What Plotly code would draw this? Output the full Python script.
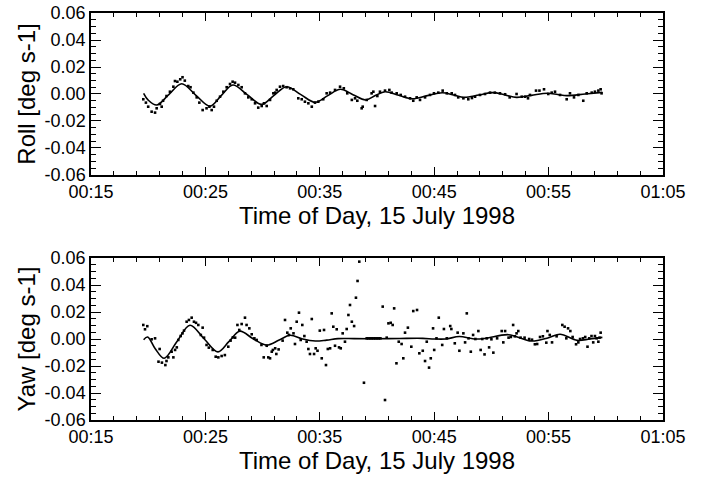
import pandas as pd
import plotly.graph_objects as go

# ---------------- data (minutes after 00:00, 15 July 1998) ----------------
roll_t = [19.57, 19.80, 20.00, 20.30, 20.60, 20.74, 21.03, 21.18, 21.30, 21.60, 21.90, 22.20, 22.34, 22.55,
          22.80, 23.00, 23.20, 23.50, 23.70, 23.95, 24.24, 24.47, 24.76, 25.10, 25.35, 25.55, 25.75, 25.99,
          26.28, 26.57, 26.86, 27.15, 27.38, 27.59, 27.88, 28.17, 28.46, 28.75, 29.05, 29.34, 29.62, 29.92,
          30.12, 30.36, 30.65, 30.94, 31.10, 31.23, 31.52, 31.80, 32.10, 32.40, 32.68, 33.12, 33.42, 33.70,
          34.00, 34.30, 34.58, 34.87, 35.30, 35.60, 35.90, 36.33, 36.77, 37.10, 37.40, 37.80, 38.08, 38.28,
          38.66, 38.75, 39.10, 39.53, 39.68, 39.83, 40.03, 40.26, 40.70, 41.08, 41.28, 41.72, 42.07, 42.45,
          42.89, 43.17, 43.47, 43.76, 44.20, 44.63, 44.98, 45.36, 45.74, 46.10, 46.53, 46.82, 47.10, 47.55,
          47.98, 48.30, 48.57, 49.00, 49.44, 49.88, 50.30, 50.75, 51.20, 51.60, 52.20, 52.65, 52.95, 53.20,
          53.37, 53.90, 54.20, 54.60, 54.97, 55.27, 55.56, 56.00, 56.58, 56.87, 57.22, 57.60, 58.03, 58.33,
          58.77, 59.05, 59.35, 59.55, 59.63]
roll_v = [-0.0039, -0.0064, -0.0094, -0.0131, -0.0138, -0.0106, -0.0074, -0.0094, -0.0050, -0.0015, 0.0017,
          0.0054, 0.0096, 0.0091, 0.0109, 0.0124, 0.0099, 0.0059, 0.0050, 0.0010, -0.0025, -0.0064, -0.0119,
          -0.0106, -0.0094, -0.0119, -0.0094, -0.0050, -0.0020, 0.0017, 0.0050, 0.0074, 0.0091, 0.0084,
          0.0067, 0.0050, 0.0005, -0.0025, -0.0039, -0.0069, -0.0101, -0.0089, -0.0069, -0.0089, -0.0044,
          0.0005, 0.0010, 0.0030, 0.0054, 0.0059, 0.0050, 0.0042, 0.0035, -0.0032, -0.0039, -0.0057, -0.0069,
          -0.0094, -0.0064, -0.0057, -0.0039, 0.0005, 0.0010, 0.0030, 0.0054, 0.0042, 0.0005, -0.0044,
          -0.0032, -0.0050, -0.0106, -0.0094, -0.0044, 0.0005, 0.0017, -0.0089, -0.0015, 0.0017, 0.0025,
          0.0030, 0.0010, 0.0005, -0.0007, -0.0020, -0.0032, -0.0050, -0.0025, -0.0044, -0.0025, -0.0007,
          0.0005, 0.0010, 0.0025, 0.0005, 0.0005, -0.0007, -0.0025, -0.0032, -0.0039, -0.0030, -0.0020,
          -0.0007, 0.0000, 0.0010, 0.0010, 0.0005, -0.0002, -0.0025, 0.0000, -0.0020, -0.0020, -0.0032,
          -0.0007, 0.0025, 0.0025, 0.0035, 0.0000, 0.0010, 0.0017, -0.0007, -0.0039, 0.0005, -0.0025, -0.0007,
          -0.0050, 0.0005, 0.0010, 0.0017, 0.0025, 0.0035, 0.0005]

roll_fit_t = [19.6, 20.0, 20.74, 21.8, 22.93, 24.15, 25.4, 26.4, 27.4, 28.65, 29.9, 31.0, 32.1, 33.35, 34.6,
              35.7, 36.8, 37.9, 39.0, 39.85, 40.7, 41.9, 43.1, 44.4, 45.7, 46.7, 47.6, 48.9, 50.1, 51.2,
              52.2, 53.5, 54.9, 55.8, 56.6, 58.2, 59.7]
roll_fit_v = [0.0005, -0.0045, -0.0082, -0.0005, 0.0076, -0.0008, -0.0090, -0.0010, 0.0067, -0.0005,
              -0.0077, -0.0010, 0.0054, -0.0005, -0.0062, -0.0012, 0.0035, -0.0005, -0.0044, -0.0012,
              0.0017, -0.0010, -0.0035, -0.0012, 0.0009, -0.0007, -0.0025, -0.0008, 0.0010, -0.0007,
              -0.0025, -0.0010, 0.0005, -0.0004, -0.0012, 0.0000, 0.0012]

yaw_t = [19.57, 19.72, 19.92, 20.30, 20.60, 20.90, 21.00, 21.20, 21.50, 21.60, 21.76, 22.05, 22.20, 22.35,
         22.50, 22.63, 22.84, 23.00, 23.13, 23.36, 23.56, 23.80, 24.00, 24.18, 24.38, 24.60, 24.76, 24.88,
         25.10, 25.30, 25.64, 25.90, 26.13, 26.42, 26.70, 27.00, 27.20, 27.40, 27.60, 27.80, 27.96, 28.17,
         28.46, 28.60, 28.84, 29.05, 29.28, 29.48, 29.90, 30.10, 30.36, 30.50, 30.65, 30.80, 30.90, 31.10,
         31.20, 31.40, 31.75, 31.96, 32.16, 32.30, 32.46, 32.70, 32.83, 32.98, 33.18, 33.33, 33.47, 33.65,
         33.85, 34.00, 34.14, 34.30, 34.50, 34.64, 34.80, 35.00, 35.17, 35.37, 35.54, 35.70, 35.90, 36.04,
         36.18, 36.33, 36.48, 36.68, 36.83, 37.00, 37.20, 37.35, 37.50, 37.64, 37.80, 38.00, 38.16, 38.30,
         38.45, 38.86, 39.10, 39.25, 39.40, 39.55, 39.70, 39.85, 40.00, 40.15, 40.30, 40.50, 40.70, 40.85,
         41.00, 41.20, 41.37, 41.50, 41.70, 41.90, 42.15, 42.30, 42.45, 42.70, 43.00, 43.17, 43.50, 43.70,
         44.00, 44.20, 44.35, 44.55, 44.70, 44.90, 45.00, 45.20, 45.40, 45.70, 45.85, 46.10, 46.40, 46.50,
         46.80, 47.05, 47.20, 47.55, 47.70, 47.85, 48.00, 48.20, 48.40, 48.60, 48.86, 49.06, 49.20, 49.40,
         49.60, 49.80, 50.00, 50.17, 50.50, 50.90, 51.04, 51.20, 51.50, 51.70, 51.90, 52.05, 52.20, 52.35,
         52.55, 52.90, 53.30, 53.55, 53.80, 54.00, 54.25, 54.50, 54.80, 54.90, 55.10, 55.30, 55.70, 56.20,
         56.40, 56.55, 56.70, 56.90, 57.10, 57.40, 57.60, 57.75, 58.00, 58.20, 58.40, 58.55, 58.75, 58.90,
         59.05, 59.20, 59.35, 59.45, 59.55]
yaw_v = [0.0104, 0.0072, 0.0095, -0.0002, 0.0005, -0.0168, -0.0074, -0.0175, -0.0193, -0.0163, -0.0136,
         -0.0094, -0.0136, -0.0081, -0.0062, -0.0007, 0.0022, 0.0042, 0.0062, 0.0128, 0.0141, 0.0158, 0.0128,
         0.0120, 0.0104, 0.0030, 0.0084, 0.0010, -0.0044, -0.0064, -0.0081, -0.0131, -0.0136, -0.0126,
         -0.0119, -0.0057, -0.0012, 0.0012, 0.0010, 0.0104, 0.0067, 0.0111, 0.0158, 0.0104, 0.0079, 0.0035,
         0.0005, -0.0007, -0.0044, -0.0136, -0.0050, -0.0136, -0.0143, -0.0094, -0.0081, -0.0069, -0.0111,
         -0.0077, -0.0012, 0.0141, 0.0047, 0.0030, 0.0079, 0.0042, -0.0037, 0.0128, 0.0195, -0.0007, 0.0104,
         0.0022, -0.0020, -0.0074, -0.0111, 0.0148, -0.0111, -0.0069, -0.0087, 0.0062, -0.0143, 0.0067,
         -0.0193, -0.0074, -0.0069, 0.0190, 0.0091, -0.0050, 0.0072, -0.0062, -0.0069, 0.0042, -0.0020,
         0.0074, 0.0178, 0.0252, 0.0128, 0.0096, 0.0306, 0.0430, 0.0573, -0.0324, 0.0005, 0.0005, 0.0005,
         0.0005, 0.0005, 0.0005, 0.0005, 0.0005, 0.0005, 0.0240, -0.0452, 0.0010, 0.0116, 0.0120, 0.0104,
         0.0227, -0.0180, -0.0020, -0.0037, -0.0143, 0.0047, 0.0084, -0.0057, 0.0207, 0.0215, -0.0106,
         -0.0087, -0.0163, -0.0020, -0.0212, -0.0143, 0.0079, -0.0081, 0.0005, 0.0158, -0.0044, 0.0074,
         0.0005, 0.0096, 0.0074, -0.0032, 0.0047, -0.0087, 0.0042, -0.0025, 0.0190, 0.0005, -0.0094, 0.0030,
         0.0000, 0.0059, -0.0081, 0.0000, -0.0114, 0.0005, -0.0062, -0.0002, -0.0101, 0.0005, 0.0059,
         -0.0025, 0.0059, 0.0010, 0.0015, 0.0104, 0.0020, 0.0042, 0.0059, 0.0010, 0.0010, 0.0000, -0.0005,
         -0.0039, -0.0037, 0.0015, 0.0020, -0.0027, 0.0059, 0.0030, -0.0025, 0.0020, 0.0104, 0.0091, 0.0005,
         0.0079, 0.0059, 0.0015, -0.0039, -0.0025, 0.0000, 0.0005, 0.0015, -0.0057, 0.0005, 0.0022, -0.0025,
         0.0022, 0.0005, -0.0020, 0.0010, 0.0047]

yaw_fit_t = [19.6, 19.95, 20.6, 21.4, 22.5, 23.65, 24.9, 26.1, 27.05, 28.0, 29.2, 30.35, 31.4, 32.4, 33.5,
             34.6, 35.6, 36.6, 38.0, 40.0, 42.0, 44.0, 45.0, 46.0, 47.2, 48.5, 49.5, 51.5, 53.5, 55.0, 56.0,
             57.5, 58.6, 59.7]
yaw_fit_v = [-0.0005, 0.0015, -0.0070, -0.0143, -0.0020, 0.0102, 0.0000, -0.0095, -0.0020, 0.0058, 0.0000,
             -0.0045, -0.0010, 0.0028, 0.0000, -0.0015, -0.0008, 0.0003, 0.0003, 0.0002, 0.0004, 0.0005,
             0.0000, 0.0000, 0.0018, 0.0000, 0.0005, 0.0032, -0.0015, 0.0010, 0.0035, -0.0010, 0.0000, 0.0012]

y_tickvals = [-0.06, -0.04, -0.02, 0.0, 0.02, 0.04, 0.06]
y_ticktext = ["-0.06", "-0.04", "-0.02", "0.00", "0.02", "0.04", "0.06"]
x_title = "Time of Day, 15 July 1998"

base = pd.Timestamp("1998-07-15 00:00:00")


def to_time(mins):
    return base + pd.to_timedelta(mins, unit="m")


FONT = "Liberation Sans, Arial, Helvetica, sans-serif"

fig = go.Figure()
fig.add_trace(go.Scatter(x=to_time(roll_t), y=roll_v, mode="markers",
                         marker=dict(symbol="square", size=2.6, color="black"),
                         xaxis="x", yaxis="y", showlegend=False))
fig.add_trace(go.Scatter(x=to_time(roll_fit_t), y=roll_fit_v, mode="lines",
                         line=dict(color="black", width=1.6, shape="spline", smoothing=1.0),
                         xaxis="x", yaxis="y", showlegend=False))
fig.add_trace(go.Scatter(x=to_time(yaw_t), y=yaw_v, mode="markers",
                         marker=dict(symbol="square", size=2.6, color="black"),
                         xaxis="x2", yaxis="y2", showlegend=False))
fig.add_trace(go.Scatter(x=to_time(yaw_fit_t), y=yaw_fit_v, mode="lines",
                         line=dict(color="black", width=1.6, shape="spline", smoothing=1.0),
                         xaxis="x2", yaxis="y2", showlegend=False))

xcommon = dict(
    type="date", automargin=False,
    range=["1998-07-15 00:15:00", "1998-07-15 01:05:00"],
    tickmode="linear", tick0="1998-07-15 00:05:00", dtick=600000,
    tickformat="%H:%M",
    ticks="inside", ticklen=8, tickwidth=1, tickcolor="black",
    minor=dict(tickmode="linear", tick0="1998-07-15 00:05:00", dtick=120000,
               ticks="inside", ticklen=4, tickwidth=1, tickcolor="black", showgrid=False),
    showline=True, linecolor="black", linewidth=1.5, mirror="ticks",
    showgrid=False, zeroline=False,
    tickfont=dict(family=FONT, size=18, color="black"),
    title=dict(text=x_title, font=dict(family=FONT, size=24, color="black"), standoff=6),
)
ycommon = dict(
    range=[-0.06, 0.06], automargin=False,
    tickmode="array", tickvals=y_tickvals, ticktext=y_ticktext,
    ticks="inside", ticklen=10, tickwidth=1, tickcolor="black",
    minor=dict(tickmode="linear", tick0=0, dtick=0.005,
               ticks="inside", ticklen=5, tickwidth=1, tickcolor="black", showgrid=False),
    showline=True, linecolor="black", linewidth=1.5, mirror="ticks",
    showgrid=False, zeroline=False,
    tickfont=dict(family=FONT, size=18, color="black"),
)

fig.update_layout(
    width=702, height=478,
    margin=dict(l=91, r=39, t=13, b=58),
    paper_bgcolor="white", plot_bgcolor="white",
    font=dict(family=FONT, color="black"),
    xaxis=dict(domain=[0, 1], anchor="y", **xcommon),
    yaxis=dict(domain=[0.602, 1], anchor="x",
               title=dict(text="Roll [deg s-1]", font=dict(family=FONT, size=24, color="black"), standoff=2),
               **ycommon),
    xaxis2=dict(domain=[0, 1], anchor="y2", **xcommon),
    yaxis2=dict(domain=[0, 0.398], anchor="x2",
                title=dict(text="Yaw [deg s-1]", font=dict(family=FONT, size=24, color="black"), standoff=2),
                **ycommon),
)

fig.write_html("out.html")
